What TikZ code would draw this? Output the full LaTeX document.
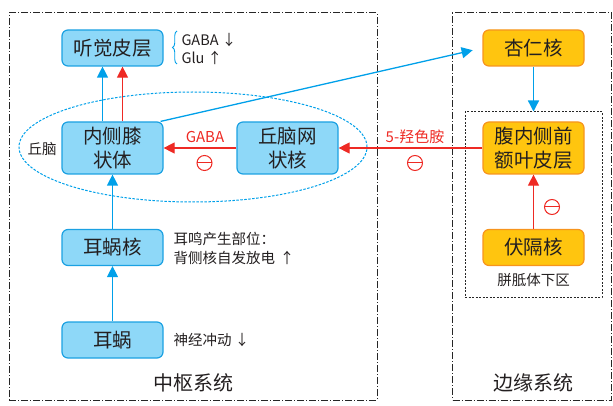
\documentclass[tikz,border=0pt]{standalone}
\usepackage{fontspec}
\setmainfont{Noto Sans CJK SC}
\usetikzlibrary{arrows.meta,decorations.pathreplacing,shapes.geometric}
\definecolor{bfill}{HTML}{8ED8F8}
\definecolor{bline}{HTML}{1BA1E2}
\definecolor{ofill}{HTML}{FFC50F}
\definecolor{oline}{HTML}{F7941D}
\definecolor{aBlue}{HTML}{00A0E9}
\definecolor{aRed}{HTML}{EE2A24}
\definecolor{txt}{HTML}{231F20}
\tikzset{
  bbox/.style={draw=bline,fill=bfill,line width=1.2pt,rounded corners=6pt,minimum width=101pt,minimum height=36pt,align=center,font=\fontsize{19.5}{24}\selectfont,text=txt,inner sep=0pt},
  obox/.style={draw=oline,fill=ofill,line width=1.2pt,rounded corners=6pt,minimum width=101pt,minimum height=36pt,align=center,font=\fontsize{19.5}{24}\selectfont,text=txt,inner sep=0pt},
  tall/.style={minimum height=52pt},
  frame/.style={draw=black!85,line width=1pt,dash pattern=on 7pt off 2pt on 1pt off 2pt,minimum width=#1,inner sep=0pt},
  bar/.style={-{Triangle[length=11pt,width=11pt]},line width=1.3pt,color=aBlue},
  rar/.style={-{Triangle[length=11pt,width=11pt]},line width=1.1pt,color=aRed},
  minus/.style={circle,draw=aRed,line width=1pt,minimum size=15pt,inner sep=0pt,path picture={\draw[aRed,line width=1pt] (path picture bounding box.west) -- (path picture bounding box.east);}},
  lab/.style={font=\fontsize{14.5}{19}\selectfont,text=txt,align=left},
  title/.style={font=\fontsize{20}{24}\selectfont,text=txt},
}
\begin{document}
\begin{tikzpicture}[x=1pt,y=-1pt]
\useasboundingbox (0,0) rectangle (613,406);
% frames
\node[frame=368pt,minimum height=387pt] (central) at (193,206.5) {};
\node[frame=159pt,minimum height=387pt] (limbic) at (532,206.5) {};
\node[draw=black!85,line width=1pt,dash pattern=on 2pt off 1.5pt,minimum width=137pt,minimum height=185pt,inner sep=0pt] (subc) at (533.5,204.5) {};
% thalamus ellipse
\node[ellipse,draw=aBlue,line width=1pt,dash pattern=on 2.5pt off 1.5pt,minimum width=348pt,minimum height=110pt,inner sep=0pt] (thal) at (193,147) {};
% nodes
\node[bbox] (ac) at (112.5,48) {听觉皮层};
\node[bbox,tall] (mgb) at (112.5,148) {内侧膝\\状体};
\node[bbox,tall] (trn) at (287.5,148) {丘脑网\\状核};
\node[bbox] (cn) at (112.5,247.5) {耳蜗核};
\node[bbox] (co) at (112.5,340) {耳蜗};
\node[obox] (amy) at (533.5,48) {杏仁核};
\node[obox,tall] (vmpfc) at (533.5,148) {腹内侧前\\额叶皮层};
\node[obox] (nac) at (533.5,247.5) {伏隔核};
% arrows
\draw[bar] (co.north) -- (cn.south);
\draw[bar] (cn.north) -- (mgb.south);
\draw[bar] ([xshift=-10pt]mgb.north) -- ([xshift=-10pt]ac.south);
\draw[rar] ([xshift=10pt]mgb.north) -- ([xshift=10pt]ac.south);
\draw[bar,shorten >=10pt] ([xshift=-3pt]mgb.north east) -- (amy.west);
\draw[rar] (trn.west) -- (mgb.west -| mgb.east);
\draw[rar] (vmpfc.west) -- (trn.east);
\draw[bar] (amy.south) -- (subc.north);
\draw[rar] (nac.north) -- (vmpfc.south);
% labels
\node[font=\fontsize{15}{18}\selectfont,text=aRed] (gaba) at (205,137) {GABA};
\node[minus] (m1) at (204.5,163) {};
\node[font=\fontsize{15}{18}\selectfont,text=aRed] (ht) at (415,137) {5-羟色胺};
\node[minus] (m2) at (415,163) {};
\node[minus] (m3) at (552,207) {};
\draw[decorate,decoration={brace,amplitude=4.5pt},line width=0.9pt,color=aBlue] (177,64) -- (177,31);
\node[lab,anchor=west] (gabatxt) at (178,40) {GABA ↓};
\node[lab,anchor=west] (glutxt) at (178,57.5) {Glu ↑};
\node[lab] (qn) at (42,149) {丘脑};
\node[lab,anchor=west,text width=150pt] (tin) at (170,248.5) {耳鸣产生部位：\\背侧核自发放电 ↑};
\node[lab,anchor=west] (imp) at (170,340) {神经冲动 ↓};
\node[lab,anchor=center] (cc) at (533.5,280) {胼胝体下区};
\node[title] (t1) at (193,383) {中枢系统};
\node[title] (t2) at (533,383) {边缘系统};
\end{tikzpicture}
\end{document}
